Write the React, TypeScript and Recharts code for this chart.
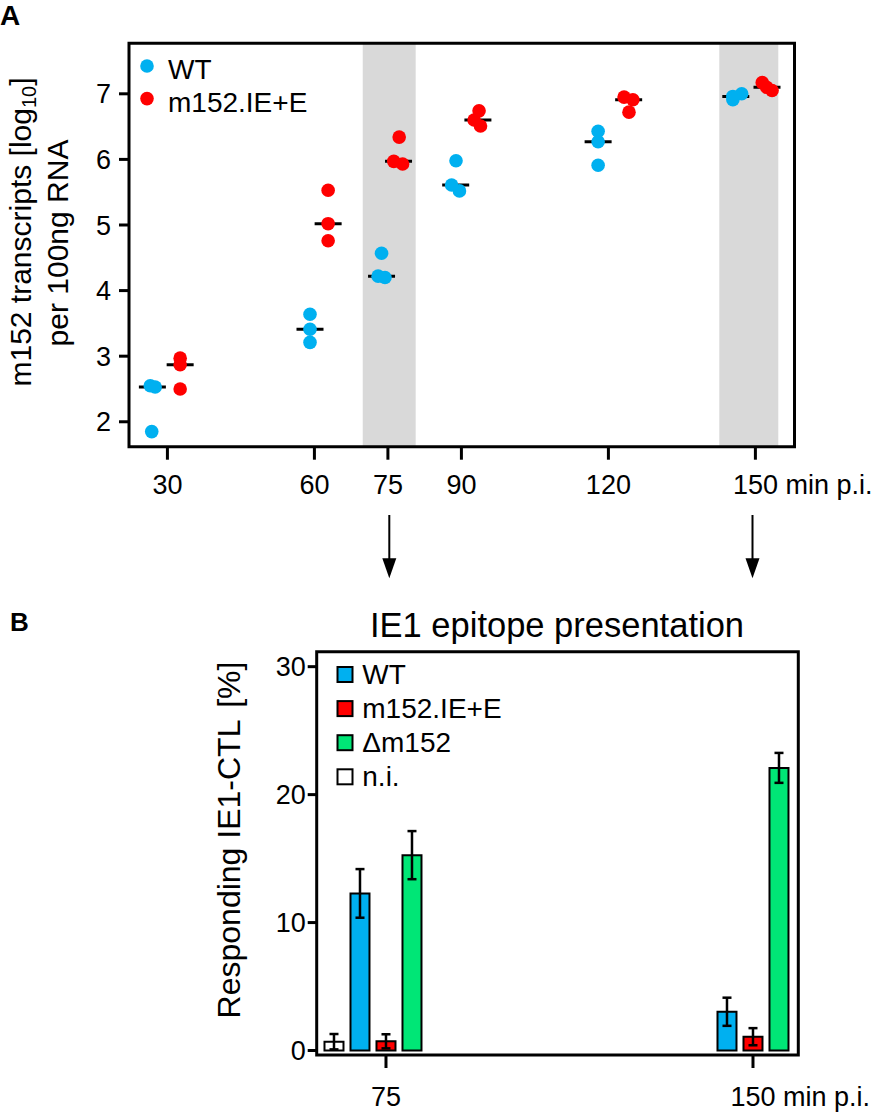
import React from 'react';
import {
  ScatterChart,
  Scatter,
  XAxis,
  YAxis,
  ReferenceArea,
  Legend,
  BarChart,
  Bar,
  ErrorBar,
} from 'recharts';

const FONT = '"Liberation Sans", Arial, Helvetica, sans-serif';

// ---------------- Panel A data ----------------
const timePoints = [30, 60, 75, 90, 120, 150];
const yTicksA = [2, 3, 4, 5, 6, 7];
// log10 transcripts per 100ng RNA, three replicates per time point
const wtValues = [
  [2.55, 2.53, 1.85],
  [3.64, 3.41, 3.21],
  [4.57, 4.22, 4.2],
  [5.98, 5.61, 5.52],
  [6.43, 6.27, 5.91],
  [7.0, 6.96, 6.91],
];
// dodged/jittered plotting position (minutes) of each replicate
const wtPlotX = [
  [26.5, 27.5, 26.8],
  [59.1, 59.1, 59.1],
  [73.7, 73.0, 74.4],
  [88.9, 88.0, 89.6],
  [117.9, 117.9, 117.9],
  [147.2, 145.4, 145.4],
];
const m152Values = [
  [2.97, 2.87, 2.5],
  [5.53, 5.02, 4.76],
  [6.34, 5.97, 5.93],
  [6.74, 6.6, 6.51],
  [6.95, 6.91, 6.72],
  [7.17, 7.1, 7.05],
];
const m152PlotX = [
  [32.6, 32.6, 32.6],
  [62.8, 62.8, 62.8],
  [77.3, 76.2, 78.0],
  [93.6, 92.6, 93.9],
  [123.2, 125.0, 124.2],
  [151.4, 152.3, 153.4],
];
const shadedRanges = [
  [69.86, 80.67],
  [142.63, 154.67],
];
const xDomainA = [22.16, 157.98];
const yDomainA = [1.62, 7.77];

// ---------------- Panel B data ----------------
const barTimes = [75, 150];
const yTicksB = [0, 10, 20, 30];
const niBar = [0.69, null];
const niErr = [0.6, null];
const wtBar = [12.28, 3.03];
const wtErr = [1.9, 1.1];
const m152Bar = [0.72, 1.08];
const m152Err = [0.55, 0.67];
const delBar = [15.27, 22.09];
const delErr = [1.88, 1.17];
const xDomainB = [60.84, 159.26];
const yDomainB = [-0.35, 31.17];
const legendOrderB = ['WT', 'm152.IE+E', '\u0394m152', 'n.i.'];

const COLORS = {
  wt: '#00B0F0',
  m152: '#FF0000',
  del: '#00E676',
  ni: '#FFFFFF',
  band: '#D9D9D9',
};

// ---------------- helpers ----------------
const mean = (a: number[]) => a.reduce((s, v) => s + v, 0) / a.length;
const median = (a: number[]) => [...a].sort((p, q) => p - q)[Math.floor(a.length / 2)];

const toPoints = (vals: number[][], xs: number[][]) =>
  vals.flatMap((row, i) => row.map((v, j) => ({ x: xs[i][j], y: v, time: timePoints[i] })));
const toMedians = (vals: number[][], xs: number[][]) =>
  vals.map((row, i) => ({ x: mean(xs[i]), y: median(row), time: timePoints[i] }));

const wtPoints = toPoints(wtValues, wtPlotX);
const m152Points = toPoints(m152Values, m152PlotX);
const wtMedians = toMedians(wtValues, wtPlotX);
const m152Medians = toMedians(m152Values, m152PlotX);

const barData = barTimes.map((t, i) => ({
  time: t,
  ni: niBar[i],
  niErr: niErr[i],
  wt: wtBar[i],
  wtErr: wtErr[i],
  m152: m152Bar[i],
  m152Err: m152Err[i],
  del: delBar[i],
  delErr: delErr[i],
}));

const Dot = (props: any) => <circle cx={props.cx} cy={props.cy} r={6.8} fill={props.fill} />;
const MedianTick = (props: any) => (
  <line x1={props.cx - 13.5} x2={props.cx + 13.5} y1={props.cy} y2={props.cy} stroke="#000" strokeWidth={3} />
);

const makeXTick = (fs: number) => (props: any) => {
  const { x, y, payload } = props;
  const v = payload.value;
  const last = v === 150;
  return (
    <text
      x={last ? x - 0.834 * fs : x}
      y={y}
      dy="0.71em"
      textAnchor={last ? 'start' : 'middle'}
      fontSize={fs}
      fontFamily={FONT}
      fill="#000"
    >
      {last ? `${v} min p.i.` : v}
    </text>
  );
};

const LegendA = (props: any) => {
  const items = (props.payload || []).filter((p: any) => p.type !== 'none');
  return (
    <svg width={220} height={80} style={{ overflow: 'visible', display: 'block' }}>
      {items.map((p: any, i: number) => {
        const cy = 21 + i * 32.6;
        return (
          <g key={String(p.value)}>
            <circle cx={17} cy={cy} r={6.8} fill={p.color} />
            <text x={38} y={cy + 13} fontSize={28} fontFamily={FONT} fill="#000">
              {p.value}
            </text>
          </g>
        );
      })}
    </svg>
  );
};

const LegendB = (props: any) => {
  const items = (props.payload || [])
    .filter((p: any) => p.type !== 'none' && legendOrderB.includes(p.value))
    .sort((a: any, b: any) => legendOrderB.indexOf(a.value) - legendOrderB.indexOf(b.value));
  return (
    <svg width={220} height={140} style={{ overflow: 'visible', display: 'block' }}>
      {items.map((p: any, i: number) => {
        const cy = 14.5 + i * 34.1;
        return (
          <g key={String(p.value)}>
            <rect x={7.5} y={cy - 7.5} width={15} height={15} fill={p.color} stroke="#000" strokeWidth={2} />
            <text x={32.3} y={cy + 9.5} fontSize={28} fontFamily={FONT} fill="#000">
              {p.value}
            </text>
          </g>
        );
      })}
    </svg>
  );
};

const axisTickLine = { stroke: '#000', strokeWidth: 3 };

export default function App() {
  return (
    <div style={{ position: 'relative', width: 886, height: 1117, background: '#fff', fontFamily: FONT }}>
      <style>{'body{margin:0;}'}</style>

      {/* Panel A */}
      <div style={{ position: 'absolute', left: 0, top: 0 }}>
        <ScatterChart width={886} height={560} margin={{ top: 43.3, right: 91.5, bottom: 53.3, left: 69 }}>
          {shadedRanges.map((r, i) => (
            <ReferenceArea
              key={`band-${i}`}
              x1={r[0]}
              x2={r[1]}
              y1={yDomainA[0]}
              y2={yDomainA[1]}
              fill={COLORS.band}
              fillOpacity={1}
              stroke="none"
              ifOverflow="visible"
            />
          ))}
          <XAxis
            type="number"
            dataKey="x"
            domain={xDomainA}
            allowDataOverflow
            ticks={timePoints}
            interval={0}
            axisLine={false}
            tickLine={axisTickLine}
            tickSize={13}
            tickMargin={15.3}
            height={60}
            tick={makeXTick(27)}
          />
          <YAxis
            type="number"
            dataKey="y"
            domain={yDomainA}
            allowDataOverflow
            ticks={yTicksA}
            interval={0}
            axisLine={false}
            tickLine={axisTickLine}
            tickSize={10}
            tickMargin={8}
            width={60}
            tick={{ fill: '#000', fontSize: 27, fontFamily: FONT }}
          />
          <Scatter name="WT median" data={wtMedians} shape={MedianTick} legendType="none" isAnimationActive={false} />
          <Scatter name="m152 median" data={m152Medians} shape={MedianTick} legendType="none" isAnimationActive={false} />
          <Scatter name="WT" data={wtPoints} fill={COLORS.wt} shape={Dot} isAnimationActive={false} />
          <Scatter name="m152.IE+E" data={m152Points} fill={COLORS.m152} shape={Dot} isAnimationActive={false} />
          <ReferenceArea
            x1={xDomainA[0]}
            x2={xDomainA[1]}
            y1={yDomainA[0]}
            y2={yDomainA[1]}
            fill="none"
            stroke="#000"
            strokeWidth={3}
            ifOverflow="visible"
          />
          <Legend
            layout="vertical"
            align="center"
            verticalAlign="middle"
            wrapperStyle={{ left: 130, top: 45, width: 220, height: 80 }}
            content={LegendA}
          />
        </ScatterChart>
      </div>

      {/* Panel B */}
      <div style={{ position: 'absolute', left: 0, top: 560 }}>
        <BarChart
          width={886}
          height={557}
          data={barData}
          margin={{ top: 91.7, right: 87.7, bottom: 2, left: 256.7 }}
          baseValue="dataMin"
          barSize={19}
          barGap={7}
        >
          <XAxis
            type="number"
            dataKey="time"
            domain={xDomainB}
            allowDataOverflow
            ticks={barTimes}
            interval={0}
            axisLine={false}
            tickLine={axisTickLine}
            tickSize={13}
            tickMargin={18.7}
            height={60}
            tick={makeXTick(27)}
          />
          <YAxis
            type="number"
            domain={yDomainB}
            allowDataOverflow
            ticks={yTicksB}
            interval={0}
            axisLine={false}
            tickLine={axisTickLine}
            tickSize={9}
            tickMargin={2}
            width={60}
            tick={{ fill: '#000', fontSize: 27, fontFamily: FONT }}
          />
          <ReferenceArea
            x1={xDomainB[0]}
            x2={xDomainB[1]}
            y1={yDomainB[0]}
            y2={yDomainB[1]}
            fill="none"
            stroke="#000"
            strokeWidth={3}
            ifOverflow="visible"
          />
          <Bar name="n.i." dataKey="ni" fill={COLORS.ni} stroke="#000" strokeWidth={2} isAnimationActive={false}>
            <ErrorBar dataKey="niErr" width={4.5} strokeWidth={2.5} stroke="#000" direction="y" />
          </Bar>
          <Bar name="WT" dataKey="wt" fill={COLORS.wt} stroke="#000" strokeWidth={2} isAnimationActive={false}>
            <ErrorBar dataKey="wtErr" width={4.5} strokeWidth={2.5} stroke="#000" direction="y" />
          </Bar>
          <Bar name="m152.IE+E" dataKey="m152" fill={COLORS.m152} stroke="#000" strokeWidth={2} isAnimationActive={false}>
            <ErrorBar dataKey="m152Err" width={4.5} strokeWidth={2.5} stroke="#000" direction="y" />
          </Bar>
          <Bar name={'\u0394m152'} dataKey="del" fill={COLORS.del} stroke="#000" strokeWidth={2} isAnimationActive={false}>
            <ErrorBar dataKey="delErr" width={4.5} strokeWidth={2.5} stroke="#000" direction="y" />
          </Bar>
          <Bar name="pad" dataKey="pad" fill="none" legendType="none" isAnimationActive={false} />
          <Legend
            layout="vertical"
            align="center"
            verticalAlign="middle"
            wrapperStyle={{ left: 330, top: 100, width: 220, height: 140 }}
            content={LegendB}
          />
        </BarChart>
      </div>

      {/* Annotations */}
      <svg
        width={886}
        height={1117}
        style={{ position: 'absolute', left: 0, top: 0, pointerEvents: 'none' }}
        fontFamily={FONT}
        fill="#000"
      >
        <text x={0} y={25} fontSize={28} fontWeight="bold">A</text>
        <text x={10} y={631} fontSize={26} fontWeight="bold">B</text>
        <text transform="translate(31,232) rotate(-90)" textAnchor="middle" fontSize={30}>
          m152 transcripts [log
          <tspan fontSize={20} dy={5}>10</tspan>
          <tspan dy={-5}>]</tspan>
        </text>
        <text transform="translate(68,243) rotate(-90)" textAnchor="middle" fontSize={30}>
          per 100ng RNA
        </text>
        <text transform="translate(240,840) rotate(-90)" textAnchor="middle" fontSize={32}>
          Responding IE1-CTL <tspan dx={4}>[%]</tspan>
        </text>
        <text x={557} y={637} textAnchor="middle" fontSize={34.5}>
          IE1 epitope presentation
        </text>
        <line x1={389.3} x2={389.3} y1={515} y2={562} stroke="#000" strokeWidth={2} />
        <polygon points="382.3,558.3 396.3,558.3 389.3,578.3" fill="#000" />
        <line x1={752.5} x2={752.5} y1={515} y2={562} stroke="#000" strokeWidth={2} />
        <polygon points="745.5,558.3 759.5,558.3 752.5,578.3" fill="#000" />
      </svg>
    </div>
  );
}
